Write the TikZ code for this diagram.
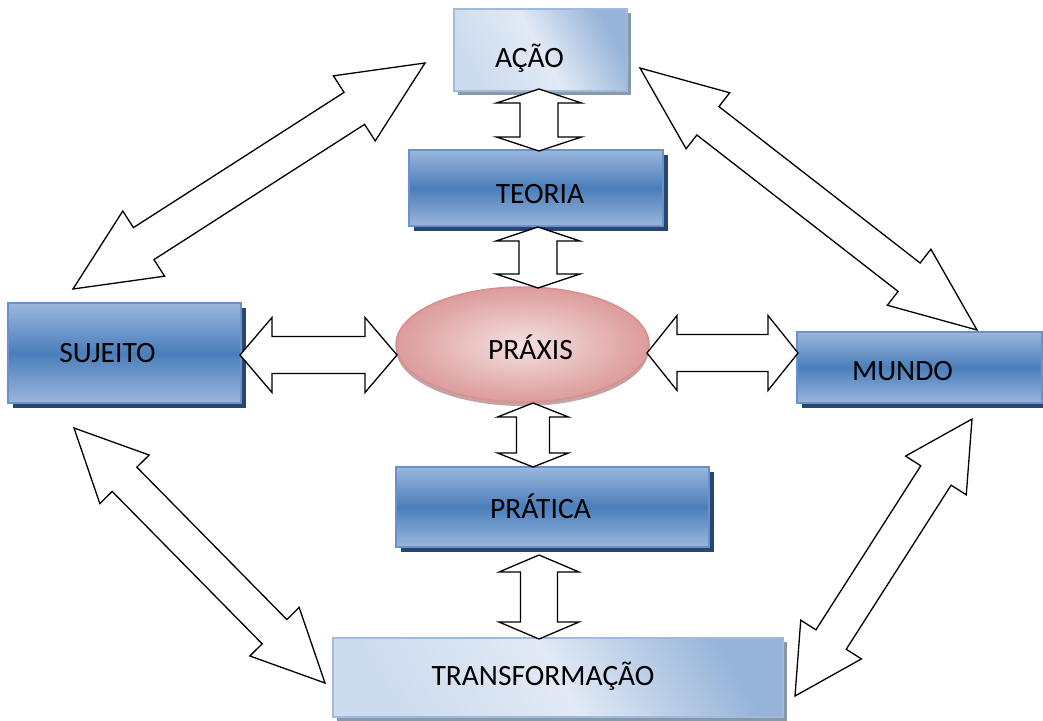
\documentclass[tikz,border=0pt]{standalone}
\usepackage{fontspec}
\setmainfont{Carlito}
\usetikzlibrary{calc,shadows,shapes.geometric}
\definecolor{dbTop}{RGB}{155,183,220}
\definecolor{dbMid}{RGB}{74,126,187}
\definecolor{dbLine}{RGB}{104,146,201}
\definecolor{dbShadow}{RGB}{40,70,112}
\definecolor{lbLeft}{RGB}{205,219,238}
\definecolor{lbEdge}{RGB}{150,180,217}
\definecolor{lbMid}{RGB}{226,234,245}
\definecolor{lbLine}{RGB}{160,186,220}
\definecolor{lbShadow}{RGB}{138,152,172}
\definecolor{pkIn}{RGB}{245,225,225}
\definecolor{pkOut}{RGB}{220,155,155}
\definecolor{pkLine}{RGB}{214,145,143}
\definecolor{pkShadow}{RGB}{180,140,140}
\tikzset{
  lbl/.style={font=\fontsize{29.5}{34}\selectfont, text=black, inner sep=0pt},
  darkbox/.style={rectangle, draw=dbLine, line width=1.5pt,
    top color=dbTop, bottom color=dbTop, middle color=dbMid,
    drop shadow={shadow xshift=4.5pt, shadow yshift=-4.5pt, fill=dbShadow, opacity=1}},
  lightbox/.style={rectangle, draw=lbLine, line width=1.5pt,
    left color=lbLeft, right color=lbEdge, middle color=lbMid, shading angle=120,
    drop shadow={shadow xshift=4pt, shadow yshift=-4pt, fill=lbShadow, opacity=1}},
  praxis/.style={ellipse, draw=pkLine, line width=1.5pt,
    inner color=pkIn, outer color=pkOut,
    drop shadow={shadow xshift=0pt, shadow yshift=-4pt, fill=pkShadow, opacity=0.8}},
  barrow/.style={draw=black, fill=white, line width=1.3pt, line join=miter},
}
% #1 start, #2 end, #3 head length, #4 head half width, #5 shaft half width
\newcommand\dblarrow[5]{%
  \path ($(#1)!#3!(#2)$) coordinate (ha) ($(#2)!#3!(#1)$) coordinate (hb);
  \draw[barrow] (#1) -- ($(ha)!#4!90:(#2)$) -- ($(ha)!#5!90:(#2)$)
    -- ($(hb)!#5!-90:(#1)$) -- ($(hb)!#4!-90:(#1)$) -- (#2)
    -- ($(hb)!#4!90:(#1)$) -- ($(hb)!#5!90:(#1)$)
    -- ($(ha)!#5!-90:(#2)$) -- ($(ha)!#4!-90:(#2)$) -- cycle;}
\begin{document}
\begin{tikzpicture}[x=1pt,y=-1pt]
\useasboundingbox (0,0) rectangle (1043,720);
% nodes
\node[lightbox, minimum width=173pt, minimum height=82pt,
  label={[lbl,xshift=-11pt,yshift=-8pt]center:AÇÃO}] (acao) at (540.5,50) {};
\node[darkbox, minimum width=254pt, minimum height=76pt,
  label={[lbl,xshift=4pt,yshift=-6pt]center:TEORIA}] (teoria) at (536,188) {};
\node[praxis, minimum width=253pt, minimum height=115pt, inner sep=0pt,
  label={[lbl,xshift=8pt,yshift=-3pt]center:PRÁXIS}] (praxis) at (522.5,344.5) {};
\node[darkbox, minimum width=313pt, minimum height=80pt,
  label={[lbl,xshift=-12pt,yshift=1pt]center:PRÁTICA}] (pratica) at (552.5,507) {};
\node[darkbox, minimum width=233pt, minimum height=100pt,
  label={[lbl,xshift=-17pt,yshift=0pt]center:SUJEITO}] (sujeito) at (124.5,353) {};
\node[darkbox, minimum width=245pt, minimum height=71pt,
  label={[lbl,xshift=-17pt,yshift=-4pt]center:MUNDO}] (mundo) at (919.5,367.5) {};
\node[lightbox, minimum width=450pt, minimum height=79pt,
  label={[lbl,xshift=-15pt,yshift=1pt]center:TRANSFORMAÇÃO}] (transf) at (558,677.5) {};
% arrow end points
\coordinate (at1) at (539,89);   \coordinate (at2) at (539,151);
\coordinate (tp1) at (538,227);  \coordinate (tp2) at (538,288);
\coordinate (pp1) at (533,403);  \coordinate (pp2) at (533,467);
\coordinate (pt1) at (539,555);  \coordinate (pt2) at (539,639);
\coordinate (sp1) at (240,355);  \coordinate (sp2) at (397,355);
\coordinate (pm1) at (647,353);  \coordinate (pm2) at (798,353);
\coordinate (tl1) at (425,63);   \coordinate (tl2) at (73,289);
\coordinate (tr1) at (640,68);   \coordinate (tr2) at (977,330);
\coordinate (bl1) at (74,428);   \coordinate (bl2) at (325,683);
\coordinate (br1) at (972,419);  \coordinate (br2) at (795,696);
% block arrows
\dblarrow{at1}{at2}{14pt}{42.5pt}{19pt}
\dblarrow{tp1}{tp2}{14pt}{42pt}{19pt}
\dblarrow{pp1}{pp2}{14pt}{35.5pt}{16.5pt}
\dblarrow{pt1}{pt2}{17pt}{40pt}{18.5pt}
\dblarrow{sp1}{sp2}{32pt}{37.5pt}{18.5pt}
\dblarrow{pm1}{pm2}{30pt}{37.5pt}{18.5pt}
\dblarrow{tl1}{tl2}{84pt}{38.7pt}{19pt}
\dblarrow{tr1}{tr2}{86pt}{35.5pt}{18pt}
\dblarrow{bl1}{bl2}{72pt}{34.6pt}{17.3pt}
\dblarrow{br1}{br2}{67pt}{36pt}{18pt}
\end{tikzpicture}
\end{document}
